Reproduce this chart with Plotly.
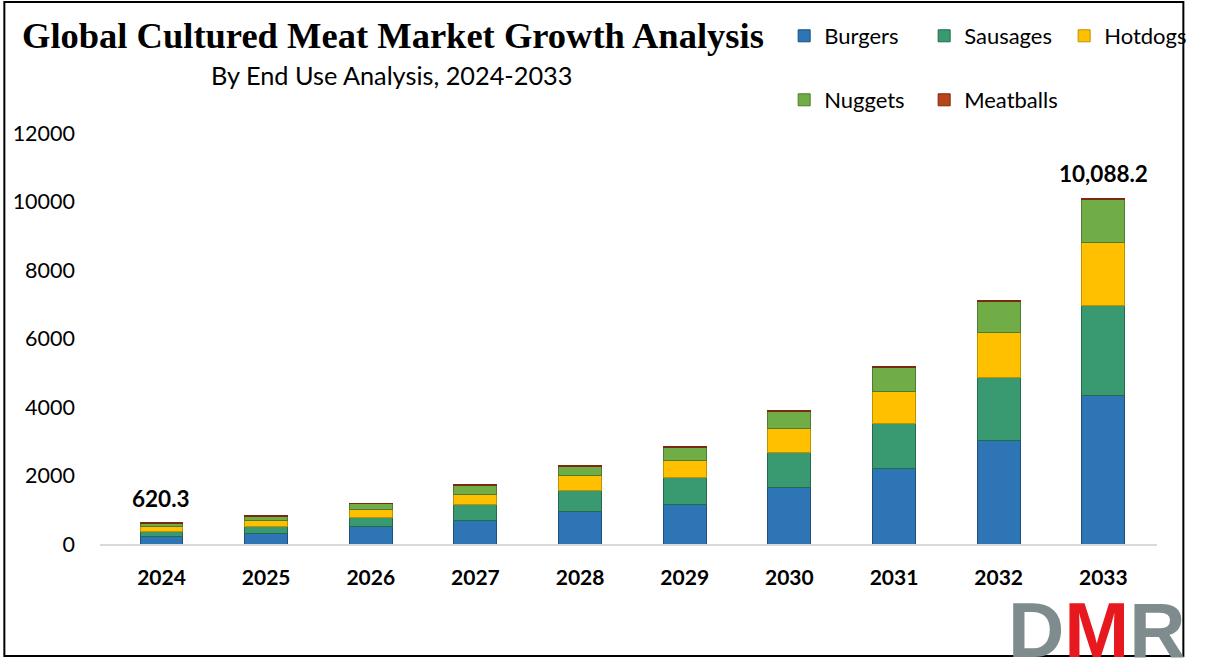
import plotly.graph_objects as go

years = ["2024", "2025", "2026", "2027", "2028", "2029", "2030", "2031", "2032", "2033"]
burgers = [230, 310, 500, 700, 960, 1165, 1660, 2190, 3036, 4330]
sausages = [130, 210, 275, 460, 590, 770, 1005, 1335, 1840, 2640]
hotdogs = [140, 160, 235, 300, 440, 490, 700, 930, 1285, 1820]
nuggets = [100, 120, 160, 240, 270, 390, 500, 700, 920, 1275]
meatballs = [20.3, 18, 20, 25, 20, 20, 20, 20, 20, 23.2]
y_ticks = [0, 2000, 4000, 6000, 8000, 10000, 12000]
labelled_years = ["2024", "2033"]

series = [
    ("Burgers", burgers, "#2E75B6", "#1F4E79", "legend"),
    ("Sausages", sausages, "#399A72", "#23694B", "legend"),
    ("Hotdogs", hotdogs, "#FFC000", "#BF9000", "legend"),
    ("Nuggets", nuggets, "#70AD47", "#4E7A31", "legend2"),
    ("Meatballs", meatballs, "#B8441A", "#7A2A0E", "legend2"),
]

W, H = 1216, 663
L, R, T, B = 100, 1183, 133, 544  # plot area in pixels


def px_x(px):
    return (px - L) / (R - L)


def px_y(py):
    return (B - py) / (B - T)


FONT = "Lato"

fig = go.Figure()
for name, vals, col, edge, leg in series:
    fig.add_trace(go.Bar(
        x=years, y=vals, name=name,
        marker=dict(color=col, line=dict(color=edge, width=1)),
        legend=leg,
    ))

totals = [sum(v) for v in zip(burgers, sausages, hotdogs, nuggets, meatballs)]
annotations = []
for i, (yr, tot) in enumerate(zip(years, totals)):
    if yr in labelled_years:
        annotations.append(dict(
            x=i, y=tot, xref="x", yref="y", text=f"<b>{tot:,.1f}</b>",
            showarrow=False, yanchor="bottom", yshift=9,
            font=dict(family=FONT, size=22.5, color="black"),
        ))

annotations.append(dict(
    x=px_x(400), y=px_y(36), xref="paper", yref="paper",
    text="<b>Global Cultured Meat Market Growth Analysis</b>",
    showarrow=False, xanchor="center", yanchor="middle",
    font=dict(family="Liberation Serif", size=36.5, color="black"),
))
annotations.append(dict(
    x=px_x(399), y=px_y(75), xref="paper", yref="paper",
    text="By End Use Analysis, 2024-2033",
    showarrow=False, xanchor="center", yanchor="middle",
    font=dict(family=FONT, size=25.3, color="black"),
))
annotations.append(dict(
    x=px_x(1122), y=px_y(676), xref="paper", yref="paper",
    text="<b><span style='color:#7F8C8D'>D</span><span style='color:#E8191E'>M</span><span style='color:#7F8C8D'>R</span></b>",
    showarrow=False, xanchor="center", yanchor="bottom",
    font=dict(family="Liberation Sans", size=78),
))

fig.update_layout(
    width=W, height=H, autosize=False,
    margin=dict(l=L, r=W - R, t=T, b=H - B),
    barmode="stack", bargap=0.59,
    plot_bgcolor="white", paper_bgcolor="white",
    font=dict(family=FONT, size=20, color="black"),
    showlegend=True,
    legend=dict(
        orientation="h", x=px_x(801), y=px_y(36), xanchor="left", yanchor="middle",
        entrywidth=95, entrywidthmode="pixels", font=dict(family=FONT, size=22),
        bgcolor="rgba(0,0,0,0)", traceorder="normal",
    ),
    legend2=dict(
        orientation="h", x=px_x(801), y=px_y(100), xanchor="left", yanchor="middle",
        entrywidth=95, entrywidthmode="pixels", font=dict(family=FONT, size=22),
        bgcolor="rgba(0,0,0,0)", traceorder="normal",
    ),
    xaxis=dict(
        type="category", range=[-0.5876, 9.513], showgrid=False,
        showline=True, linecolor="#D9D9D9", linewidth=2, ticks="",
        tickfont=dict(family=FONT, size=21, color="black", weight="bold"),
        ticklabelstandoff=14, fixedrange=True,
    ),
    yaxis=dict(
        range=[0, 12000], tickvals=y_ticks, showgrid=False, zeroline=False,
        showline=False, ticks="", tickformat="d",
        tickfont=dict(family=FONT, size=21.5, color="black"),
        ticklabelstandoff=24, fixedrange=True,
    ),
    annotations=annotations,
    shapes=[dict(
        type="rect", xref="paper", yref="paper",
        x0=px_x(2), x1=px_x(1210), y0=px_y(656), y1=px_y(2),
        line=dict(color="black", width=2), fillcolor="rgba(0,0,0,0)", layer="below",
    )],
)

post = (
    "document.documentElement.style.overflow='hidden';"
    "document.body.style.margin='0px';document.body.style.overflow='hidden';"
)

fig.write_html(
    "out.html",
    config={"displayModeBar": False, "responsive": False},
    post_script=post,
)
